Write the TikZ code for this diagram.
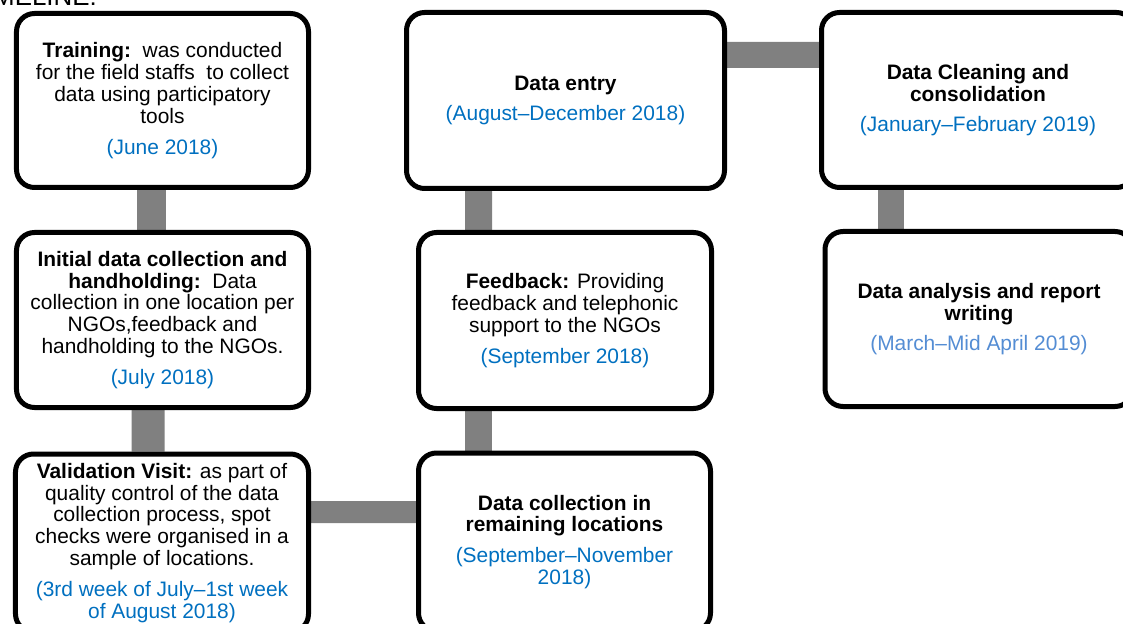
\documentclass[tikz,border=0pt]{standalone}
\usepackage{fontspec}
\setmainfont{Liberation Sans}
\usetikzlibrary{backgrounds}
\definecolor{dateblue}{HTML}{0070C0}
\definecolor{lightblue}{HTML}{548DD4}
\definecolor{conngray}{HTML}{808080}
\begin{document}
\begin{tikzpicture}[x=1bp,y=-1bp,
  box/.style={draw=black, line width=5bp, rounded corners=18bp, fill=white,
    align=center, inner sep=0pt, font=\fontsize{21}{22}\selectfont},
  conn/.style={draw=conngray, line width=#1},
  datetext/.style={}
]
\useasboundingbox (0,0) rectangle (1123,624);
\clip (0,0) rectangle (1123,624);

\node[anchor=base west, inner sep=0pt, font=\fontsize{26}{28}\selectfont] (title) at (-30,5.5) {TIMELINE:};

\node[box, minimum width=292bp, minimum height=174bp] (train) at (162.5,100.5)
  {\textbf{Training:}\ \ was conducted\\ for the field staffs\ \ to collect\\ data using participatory\\ tools\\[9bp] \textcolor{dateblue}{(June 2018)}};

\node[box, minimum width=292bp, minimum height=175bp] (init) at (162.5,320)
  {\textbf{Initial data collection and}\\ \textbf{handholding:}\ \ Data\\ collection in one location per\\ NGOs,feedback and\\ handholding to the NGOs.\\[9bp] \textcolor{dateblue}{(July 2018)}};

\node[box, minimum width=293bp, minimum height=178bp] (valid) at (162,543)
  {\textbf{Validation Visit:} as part of\\ quality control of the data\\ collection process, spot\\ checks were organised in a\\ sample of locations.\\[9bp] \textcolor{dateblue}{(3rd week of July–1st week}\\ \textcolor{dateblue}{of August 2018)}};

\node[box, minimum width=292bp, minimum height=178bp] (remain) at (564.5,542)
  {\textbf{Data collection in}\\ \textbf{remaining locations}\\[9bp] \textcolor{dateblue}{(September–November}\\ \textcolor{dateblue}{2018)}};

\node[box, minimum width=293bp, minimum height=176bp] (feedback) at (565,320.5)
  {\textbf{Feedback:} Providing\\ feedback and telephonic\\ support to the NGOs\\[9bp] \textcolor{dateblue}{(September 2018)}};

\node[box, minimum width=318bp, minimum height=176bp] (entry) at (565.5,100.5)
  {\textbf{Data entry}\\[9bp] \textcolor{dateblue}{(August–December 2018)}};

\node[box, minimum width=313bp, minimum height=175bp] (clean) at (978,100)
  {\textbf{Data Cleaning and}\\ \textbf{consolidation}\\[8bp] \textcolor{dateblue}{(January–February 2019)}};

\node[box, minimum width=308bp, minimum height=175bp] (analysis) at (979,319)
  {\textbf{Data analysis and report}\\ \textbf{writing}\\[8bp] \textcolor{lightblue}{(March–Mid April 2019)}};

\begin{scope}[on background layer]
  \draw[conn=29bp] ([xshift=-11bp]train.south) -- ([xshift=-11bp]init.north);
  \draw[conn=33bp] ([xshift=-14.5bp]init.south) -- ([xshift=-14bp]valid.north);
  \draw[conn=22bp] ([yshift=31bp]valid.east) -- ([yshift=30bp]remain.west);
  \draw[conn=27bp] ([xshift=-86bp]remain.north) -- ([xshift=-86.5bp]feedback.south);
  \draw[conn=27bp] ([xshift=-86.5bp]feedback.north) -- ([xshift=-87bp]entry.south);
  \draw[conn=26bp] ([yshift=45.5bp]entry.east) -- ([yshift=45bp]clean.west);
  \draw[conn=26bp] ([xshift=-87bp]clean.south) -- ([xshift=-88bp]analysis.north);
\end{scope}
\end{tikzpicture}
\end{document}
